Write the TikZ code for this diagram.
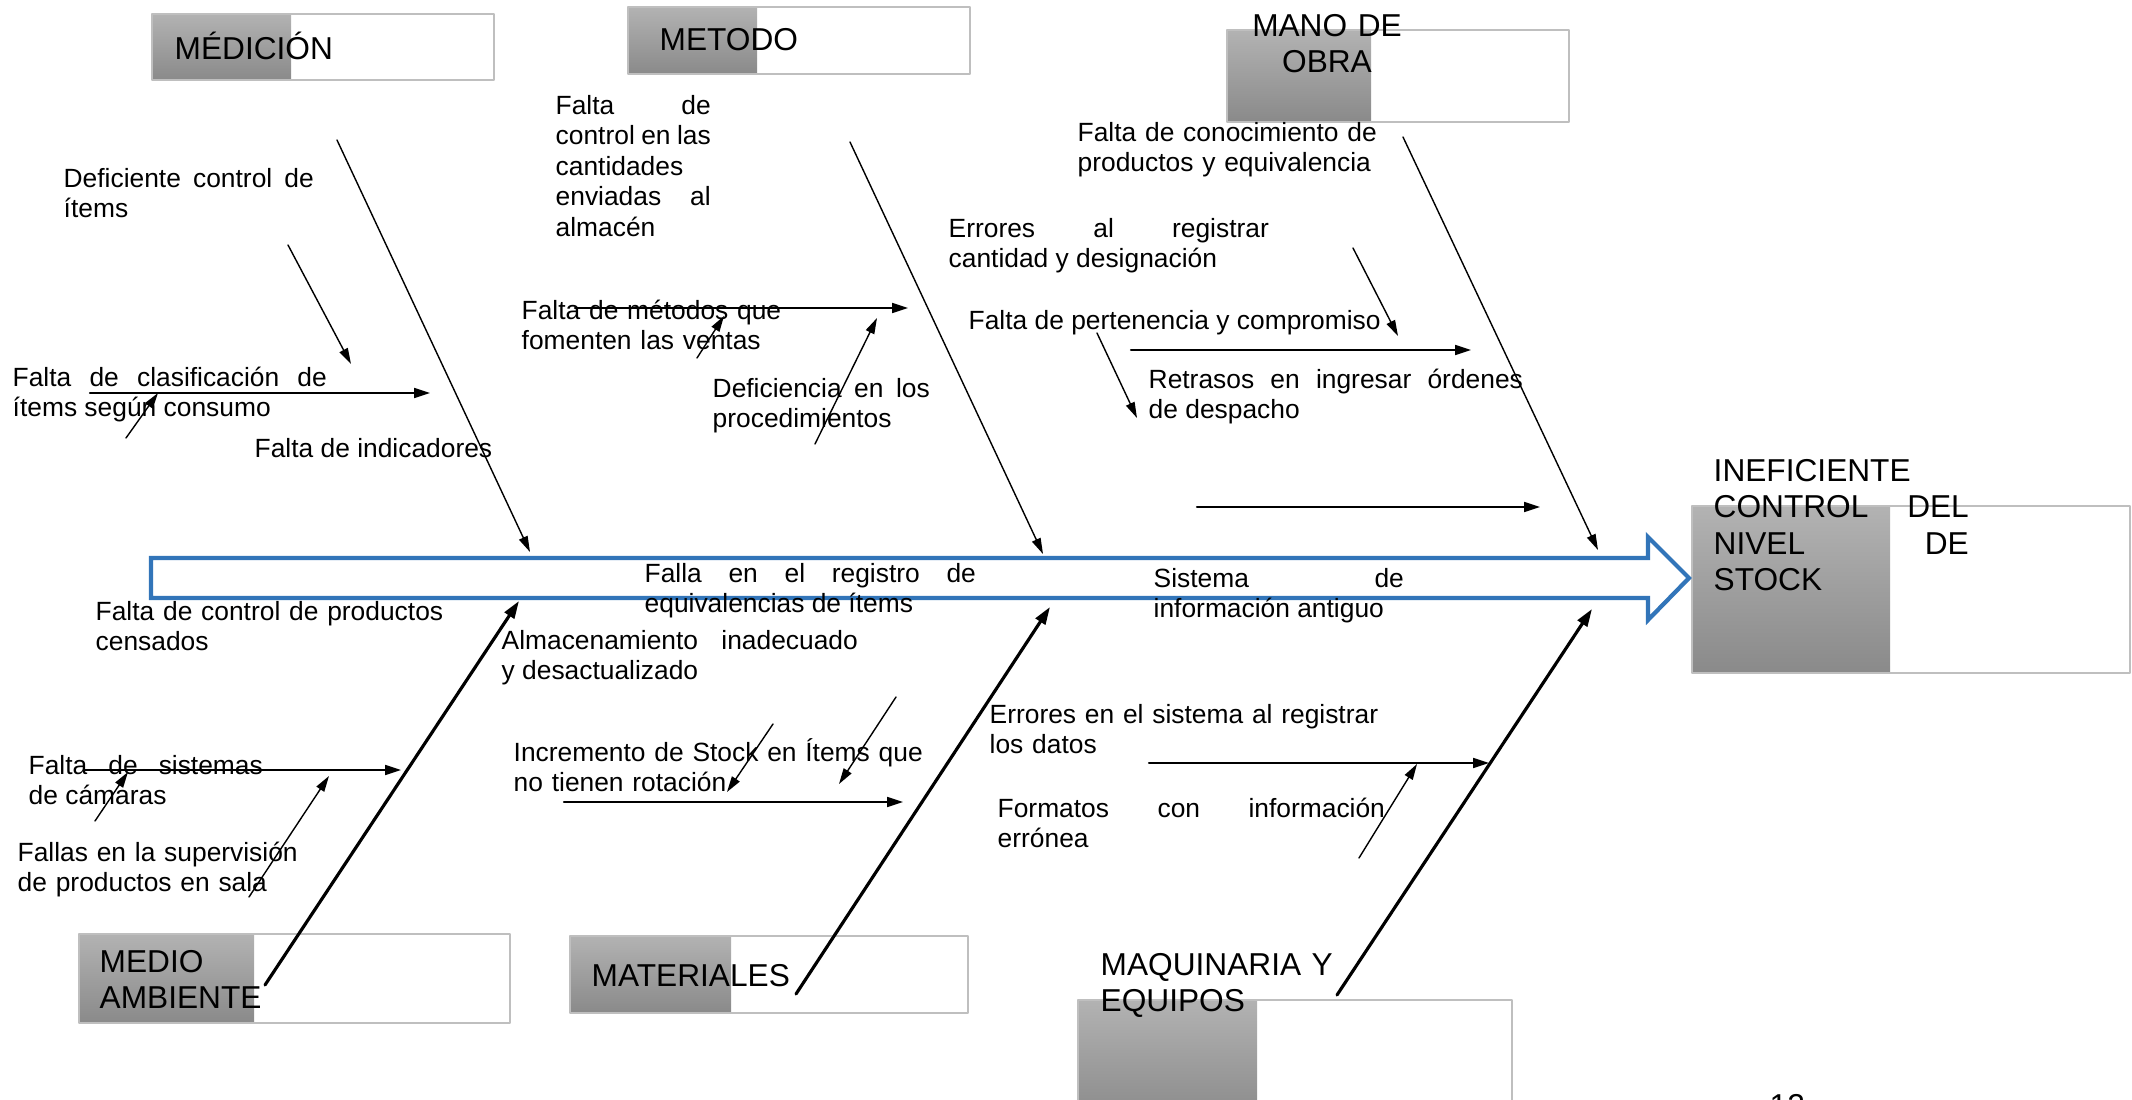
\documentclass[tikz,border=0pt]{standalone}
\usepackage{fontspec}
\setmainfont{Liberation Sans}
\usetikzlibrary{arrows.meta}
\definecolor{spineblue}{RGB}{50,117,185}
\tolerance=10000
\hyphenpenalty=10000
\tikzset{
  txt/.style={anchor=base west, inner sep=0pt, font=\fontsize{7.5}{8.7}\selectfont, align=left},
  jtxt/.style={txt, align=justify},
  ttl/.style={anchor=base west, inner sep=0pt, font=\fontsize{9}{10.4}\selectfont, align=left},
  bone/.style={-{Triangle[length=4.5pt,width=2.6pt]}, line width=0.4pt},
  hbone/.style={-{Triangle[length=4.5pt,width=2.8pt]}, line width=0.6pt},
  tbone/.style={-{Triangle[length=5pt,width=3.2pt]}, line width=0.9pt},
  grayblk/.style={top color=black!30, bottom color=black!46},
  boxline/.style={draw=black!25, line width=0.5pt}
}

\begin{document}
\begin{tikzpicture}[line cap=round,line join=round,x=0.01cm,y=-0.01cm]
\useasboundingbox (0,0) rectangle (2132,1100);

% cabeceras
\shade[grayblk] (152,14) rectangle (291,80);
\draw[boxline] (152,14) rectangle (494,80);
\shade[grayblk] (628,7) rectangle (757,74);
\draw[boxline] (628,7) rectangle (970,74);
\shade[grayblk] (1227,30) rectangle (1371,122);
\draw[boxline] (1227,30) rectangle (1569,122);
\shade[grayblk] (1692,506) rectangle (1890,673);
\draw[boxline] (1692,506) rectangle (2130,673);
\shade[grayblk] (79,934) rectangle (254,1023);
\draw[boxline] (79,934) rectangle (510,1023);
\shade[grayblk] (570,936) rectangle (731,1013);
\draw[boxline] (570,936) rectangle (968,1013);
\shade[grayblk] (1078,1000) rectangle (1257,1120);
\draw[boxline] (1078,1000) rectangle (1512,1120);

% espina
\draw[spineblue, line width=1.2pt, line join=miter, fill=white] (151,558) -- (1648,558) -- (1648,537) -- (1689,578) -- (1648,620) -- (1648,598) -- (151,598) -- cycle;

\node[ttl] (medTitle) at (174,59) {MÉDICIÓN};
\node[ttl] (metTitle) at (659,51) {METODO};
\node[ttl, anchor=base, align=center, text width=2.4cm] (manoTitle) at (1327,36) {MANO DE\\OBRA};
\node[ttl, align=justify, text width=2.55cm] (efecto) at (1713,481) {INEFICIENTE\linebreak CONTROL DEL\linebreak NIVEL DE\linebreak STOCK};
\node[ttl, text width=3cm] (ambTitle) at (99,972) {MEDIO\\AMBIENTE};
\node[ttl] (matTitle) at (591,986) {MATERIALES};
\node[ttl, text width=3cm] (maqTitle) at (1100,975) {MAQUINARIA Y\\EQUIPOS};
\node[ttl] (pagina) at (1769,1116) {12};

\node[jtxt, text width=2.50cm] (defItems) at (63,187) {Deficiente control de\linebreak ítems};
\node[jtxt, text width=3.14cm] (clasif) at (12,386) {Falta de clasificación de\linebreak ítems según consumo};
\node[txt] (indic) at (254,457) {Falta de indicadores};
\node[jtxt, text width=1.55cm] (ctrlCant) at (555,114) {Falta de\linebreak control en las\linebreak cantidades\linebreak enviadas al\linebreak almacén};
\node[txt, text width=3cm] (metVentas) at (521,319) {Falta de métodos que\\fomenten las ventas};
\node[jtxt, text width=2.17cm] (proced) at (712,397) {Deficiencia en los\linebreak procedimientos};
\node[jtxt, text width=3.20cm] (regCant) at (948,237) {Errores al registrar\linebreak cantidad y designación};
\node[txt] (perten) at (968,329) {Falta de pertenencia y compromiso};
\node[jtxt, text width=3.74cm] (retrasos) at (1148,388) {Retrasos en ingresar órdenes\linebreak de despacho};
\node[txt, text width=3.2cm] (conoc) at (1077,141) {Falta de conocimiento de\\productos y equivalencia};
\node[jtxt, text width=3.31cm] (equiv) at (644,582) {Falla en el registro de\linebreak equivalencias de ítems};
\node[jtxt, text width=2.50cm] (sisInfo) at (1153,587) {Sistema de\linebreak información antiguo};
\node[txt, text width=3.6cm] (censados) at (95,620) {Falta de control de productos\\censados};
\node[jtxt, text width=3.56cm] (almac) at (501,649) {Almacenamiento inadecuado\linebreak y desactualizado};
\node[jtxt, text width=2.34cm] (camaras) at (28,774) {Falta de sistemas\linebreak de cámaras};
\node[txt, text width=3cm] (superv) at (17,861) {Fallas en la supervisión\\de productos en sala};
\node[txt, text width=4.3cm] (rotacion) at (513,761) {Incremento de Stock en Ítems que\\no tienen rotación};
\node[txt, text width=4cm] (sisDatos) at (989,723) {Errores en el sistema al registrar\\los datos};
\node[jtxt, text width=3.87cm] (formatos) at (997,817) {Formatos con información\linebreak errónea};

% espinas principales
\coordinate (medA) at (337,140); \coordinate (medB) at (530,552);
\coordinate (metA) at (850,142); \coordinate (metB) at (1043,554);
\coordinate (manA) at (1403,137); \coordinate (manB) at (1598,550);
\coordinate (ambA) at (265,985); \coordinate (ambB) at (519,601);
\coordinate (matA) at (796,994); \coordinate (matB) at (1050,607);
\coordinate (maqA) at (1337,995); \coordinate (maqB) at (1592,609);
\draw[bone] (medA) -- (medB);
\draw[bone] (metA) -- (metB);
\draw[bone] (manA) -- (manB);
\draw[tbone] (ambA) -- (ambB);
\draw[tbone] (matA) -- (matB);
\draw[tbone] (maqA) -- (maqB);

% causas secundarias
\coordinate (d1a) at (288,245); \coordinate (d1b) at (351,364);
\coordinate (d2a) at (90,393); \coordinate (d2b) at (430,393);
\coordinate (d3a) at (126,438); \coordinate (d3b) at (158,393);
\coordinate (m1a) at (575,308); \coordinate (m1b) at (908,308);
\coordinate (m2a) at (697,358); \coordinate (m2b) at (724,316);
\coordinate (m3a) at (815,444); \coordinate (m3b) at (877,318);
\coordinate (o1a) at (1353,248); \coordinate (o1b) at (1398,336);
\coordinate (o2a) at (1131,350); \coordinate (o2b) at (1471,350);
\coordinate (o3a) at (1097,333); \coordinate (o3b) at (1137,418);
\coordinate (o4a) at (1197,507); \coordinate (o4b) at (1540,507);
\coordinate (a1a) at (85,770); \coordinate (a1b) at (401,770);
\coordinate (a2a) at (95,821); \coordinate (a2b) at (128,772);
\coordinate (a3a) at (249,897); \coordinate (a3b) at (329,776);
\coordinate (t1a) at (564,802); \coordinate (t1b) at (903,802);
\coordinate (t2a) at (773,724); \coordinate (t2b) at (727,792);
\coordinate (t3a) at (896,697); \coordinate (t3b) at (839,784);
\coordinate (q1a) at (1149,763); \coordinate (q1b) at (1489,763);
\coordinate (q2a) at (1359,858); \coordinate (q2b) at (1417,764);
\draw[bone] (d1a) -- (d1b);
\draw[hbone] (d2a) -- (d2b);
\draw[bone] (d3a) -- (d3b);
\draw[hbone] (m1a) -- (m1b);
\draw[bone] (m2a) -- (m2b);
\draw[bone] (m3a) -- (m3b);
\draw[bone] (o1a) -- (o1b);
\draw[hbone] (o2a) -- (o2b);
\draw[bone] (o3a) -- (o3b);
\draw[hbone] (o4a) -- (o4b);
\draw[hbone] (a1a) -- (a1b);
\draw[bone] (a2a) -- (a2b);
\draw[bone] (a3a) -- (a3b);
\draw[hbone] (t1a) -- (t1b);
\draw[bone] (t2a) -- (t2b);
\draw[bone] (t3a) -- (t3b);
\draw[hbone] (q1a) -- (q1b);
\draw[bone] (q2a) -- (q2b);
\end{tikzpicture}
\end{document}
